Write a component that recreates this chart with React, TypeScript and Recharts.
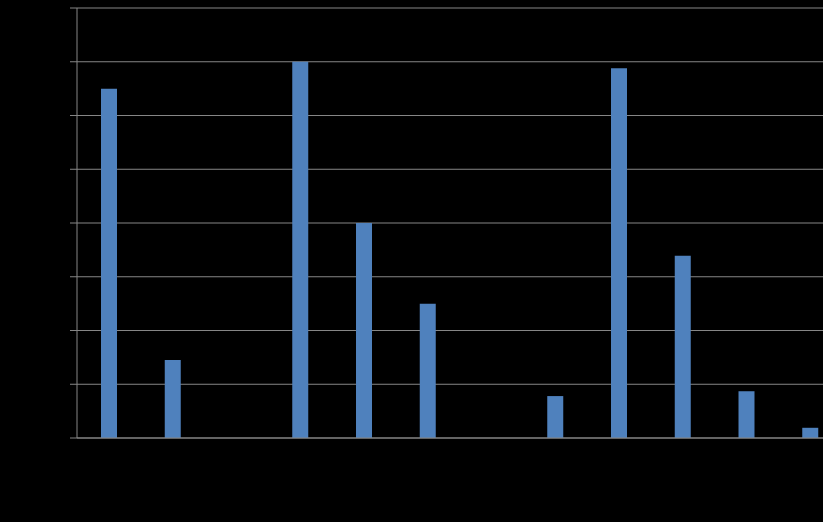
import React from 'react';
import { BarChart, Bar, XAxis, YAxis, CartesianGrid } from 'recharts';

// categories (labels are not visible in the picture, drawn black on black)
const categories = ['1', '2', '3', '4', '5', '6', '7', '8', '9', '10', '11', '12'];
const values = [6.5, 1.45, 0, 7.0, 4.0, 2.5, 0, 0.78, 6.88, 3.39, 0.87, 0.19];
const yTicks = [0, 1, 2, 3, 4, 5, 6, 7, 8];

const data = categories.map((name, i) => ({ name, value: values[i] }));

const GRID = '#868686';

const App: React.FC = () => {
  return (
    <div
      style={{
        position: 'fixed',
        left: 0,
        top: 0,
        width: 823,
        height: 522,
        overflow: 'hidden',
        background: '#000',
      }}
    >
      <BarChart
        width={842}
        height={522}
        data={data}
        margin={{ top: 8, right: 0, left: 0, bottom: 54 }}
        barCategoryGap={0}
      >
        <CartesianGrid vertical={false} stroke={GRID} strokeDasharray="" />
        <XAxis
          dataKey="name"
          height={30}
          stroke={GRID}
          tickLine={false}
          tick={{ fill: '#000', fontSize: 12 }}
        />
        <YAxis
          width={77}
          domain={[0, 8]}
          ticks={yTicks}
          stroke={GRID}
          tickSize={7}
          tick={{ fill: '#000', fontSize: 12 }}
        />
        <Bar dataKey="value" fill="#4F81BD" barSize={16} isAnimationActive={false} />
      </BarChart>
    </div>
  );
};

export default App;
